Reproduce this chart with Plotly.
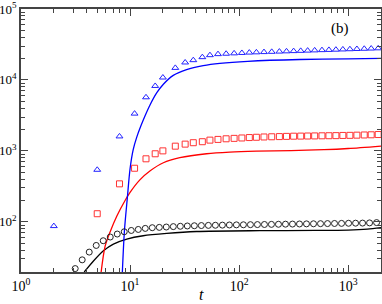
import plotly.graph_objects as go
import math

# ---- data ----
tri_t = [2, 5, 8, 11, 14, 17, 20, 26, 32, 38, 46, 54, 64, 76, 90, 106, 124, 144, 169, 199,
         234, 272, 316, 367, 425, 493, 575, 666, 772, 894, 1037, 1202, 1404, 1626, 1885]
tri_v = [87, 541, 1599, 3350, 5690, 8225, 10810, 14790, 17630, 19000, 20940, 22350, 23100,
         23400, 23700, 24000, 24300, 24500, 24700, 24900, 25100, 25300, 25500, 25700, 25900,
         26100, 26300, 26500, 26700, 26900, 27100, 27300, 27500, 27700, 27900]

sq_t = tri_t[1:]
sq_v = [130, 343, 569, 773, 910, 1000, 1165, 1244, 1303, 1346, 1417, 1450, 1480, 1500, 1520,
        1540, 1555, 1570, 1580, 1590, 1600, 1610, 1615, 1620, 1625, 1630, 1635, 1640, 1650,
        1655, 1665, 1675, 1685, 1700]

circ_t = [3.14, 3.641, 4.222, 4.895, 5.676, 6.581, 7.631, 8.848, 10.26, 11.90, 13.79, 15.99,
          18.54, 21.50, 24.93, 28.91, 33.52, 38.87, 45.07, 52.26, 60.59, 70.26, 81.46, 94.45,
          109.5, 127.0, 147.2, 170.7, 197.9, 229.5, 266.1, 308.6, 357.8, 414.8, 481.0, 557.7,
          646.7, 749.8, 869.4, 1008, 1169, 1355, 1571, 1822]
circ_v = [21.9, 29.1, 37.4, 46.4, 54.1, 61, 67.2, 72.4, 75.5, 78, 80.7, 82.6, 83.4, 84.4,
          85.5, 86.5, 87.3, 88, 88.5, 89, 89.4, 89.8, 90.2, 90.5, 90.8, 91.1, 91.4, 91.7, 92,
          92.3, 92.6, 92.9, 93.2, 93.5, 93.8, 94.1, 94.4, 94.7, 95, 95.3, 95.6, 95.9, 96.5, 97.5]

blue_t = [8.5, 8.87, 9.45, 10, 10.7, 11.5, 12.5, 13.7, 15.2, 17.6, 20.2, 24.9, 33, 46.9, 66.6,
          120, 360, 1000, 2000]
blue_v = [19.6, 73, 221, 560, 1050, 1550, 2200, 3100, 4400, 6600, 8700, 11600, 14000, 15900,
          17100, 18300, 19400, 19800, 20100]

red_t = [5.43, 5.9, 6.56, 7.55, 9, 10, 12.3, 15.2, 20.2, 28.6, 50.3, 82, 144, 300, 600, 1000, 2000]
red_v = [19.6, 45, 72, 120, 200, 260, 390, 520, 680, 800, 910, 960, 990, 1010, 1040, 1080, 1170]

black_t = [3.8, 4.62, 5.7, 7.03, 9.33, 13.2, 21.7, 40.7, 155, 500, 1000, 1500, 2000]
black_v = [19.6, 28, 39, 48.5, 57, 63.6, 68.6, 73, 75, 75.5, 76.5, 79, 83]

x_ticks = [1, 10, 100, 1000]
x_ticktext = ["10<sup>0</sup>", "10<sup>1</sup>", "10<sup>2</sup>", "10<sup>3</sup>"]
y_ticks = [100, 1000, 10000, 100000]
y_ticktext = ["10<sup>2</sup>", "10<sup>3</sup>", "10<sup>4</sup>", "10<sup>5</sup>"]

minor_x = [m * 10 ** d for d in range(0, 4) for m in range(2, 10)]
minor_y = [m * 10 ** d for d in range(1, 5) for m in range(2, 10)]

FONT = "Liberation Serif"
FRAME = "#444444"

fig = go.Figure()
fig.add_trace(go.Scatter(x=black_t, y=black_v, mode="lines",
                         line=dict(color="black", width=1.3, shape="spline", smoothing=0.8),
                         showlegend=False))
fig.add_trace(go.Scatter(x=red_t, y=red_v, mode="lines",
                         line=dict(color="#ff0000", width=1.3, shape="spline", smoothing=0.8),
                         showlegend=False))
fig.add_trace(go.Scatter(x=blue_t, y=blue_v, mode="lines",
                         line=dict(color="#0000ff", width=1.3, shape="spline", smoothing=0.8),
                         showlegend=False))
fig.add_trace(go.Scatter(x=circ_t, y=circ_v, mode="markers",
                         marker=dict(symbol="circle-open", size=6, color="#222222", line=dict(width=1)),
                         showlegend=False))
fig.add_trace(go.Scatter(x=sq_t, y=sq_v, mode="markers",
                         marker=dict(symbol="square-open", size=6, color="#ff3333", line=dict(width=1)),
                         showlegend=False))
fig.add_trace(go.Scatter(x=tri_t, y=tri_v, mode="markers",
                         marker=dict(symbol="triangle-up-open", size=6, color="#2222ff", line=dict(width=1)),
                         showlegend=False))

axis_common = dict(type="log", showgrid=False, zeroline=False, showline=True, linecolor=FRAME,
                   linewidth=1.5, mirror="ticks", ticks="inside", ticklen=7, tickwidth=1,
                   tickcolor=FRAME, automargin=False)

fig.update_xaxes(range=[0, math.log10(2000)], tickmode="array", tickvals=x_ticks,
                 ticktext=x_ticktext, tickfont=dict(family=FONT, size=14, color="black"),
                 minor=dict(tickmode="array", tickvals=minor_x, ticks="inside", ticklen=4,
                            tickcolor=FRAME, showgrid=False),
                 **axis_common)
fig.update_yaxes(range=[math.log10(19.6), 5], tickmode="array", tickvals=y_ticks,
                 ticktext=y_ticktext, ticklabelstandoff=0,
                 tickfont=dict(family=FONT, size=13, color="black"),
                 minor=dict(tickmode="array", tickvals=minor_y, ticks="inside", ticklen=4,
                            tickcolor=FRAME, showgrid=False),
                 **axis_common)

fig.add_annotation(x=0.5, y=-0.085, xref="paper", yref="paper", text="<i>t</i>", showarrow=False,
                   font=dict(family=FONT, size=16, color="black"),
                   xanchor="center", yanchor="middle")
fig.add_annotation(x=0.886, y=0.924, xref="paper", yref="paper", text="(b)", showarrow=False,
                   font=dict(family=FONT, size=15, color="black"),
                   xanchor="center", yanchor="middle")

fig.update_layout(width=382, height=304, margin=dict(l=21, r=1, t=9, b=32),
                  plot_bgcolor="white", paper_bgcolor="white")

fig.write_html("out.html", config={"displayModeBar": False},
               post_script="document.body.style.margin='0';document.body.style.overflow='hidden';")
